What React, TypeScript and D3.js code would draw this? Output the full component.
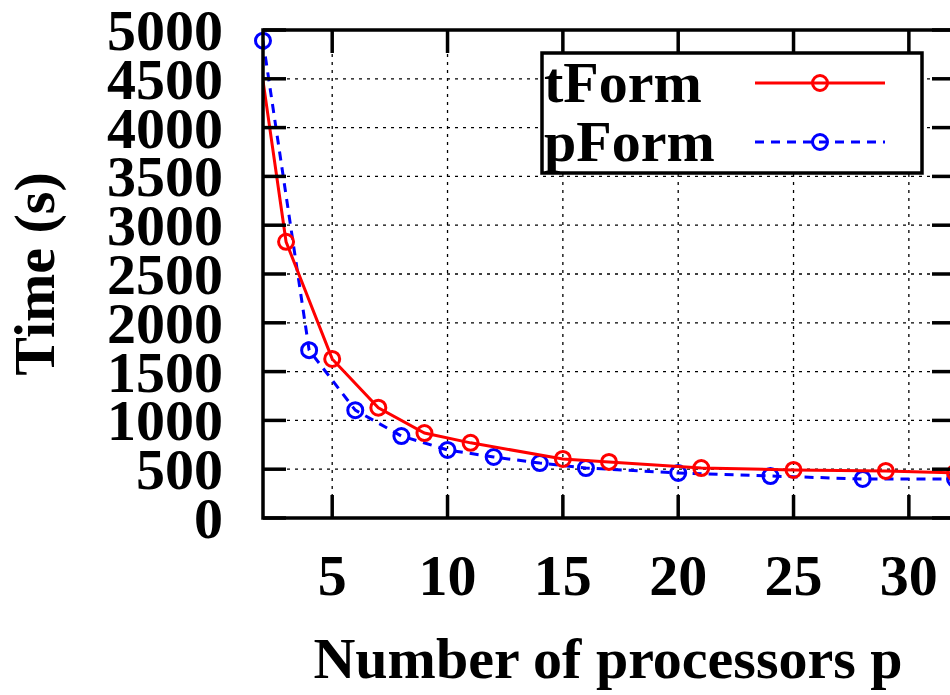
import React, { useEffect, useRef } from "react";
import * as d3 from "d3";

const WIDTH = 950;
const HEIGHT = 695;

// tForm run times, first sample only shows as the line entering the plot
const tFormP = [2, 3, 5, 7, 9, 11, 15, 17, 21, 25, 29, 32];
const tFormTime = [4480, 2830, 1630, 1130, 870, 770, 605, 575, 512, 492, 482, 462];

// pForm run times
const pFormP = [2, 4, 6, 8, 10, 12, 14, 16, 20, 24, 28, 32];
const pFormTime = [4890, 1720, 1105, 840, 697, 625, 563, 512, 461, 430, 400, 400];

const xTicks = [5, 10, 15, 20, 25, 30];
const yTicks = [0, 500, 1000, 1500, 2000, 2500, 3000, 3500, 4000, 4500, 5000];
const legendLabels = ["tForm", "pForm"];

const FONT = "'Liberation Serif', 'Times New Roman', serif";

function drawChart(svgEl: SVGSVGElement) {
    const MARGINS = { top: 30, right: 955, bottom: 518, left: 263 };
    const svg = d3.select(svgEl);
    svg.selectAll("*").remove();

    const x = d3.scaleLinear().domain([2, 32]).range([MARGINS.left, MARGINS.right]);
    const y = d3.scaleLinear().domain([0, 5000]).range([MARGINS.bottom, MARGINS.top]);

    svg.append("rect").attr("width", WIDTH).attr("height", HEIGHT).attr("fill", "#fff");

    svg.append("clipPath").attr("id", "plotClip")
        .append("rect")
        .attr("x", MARGINS.left).attr("y", MARGINS.top)
        .attr("width", MARGINS.right - MARGINS.left)
        .attr("height", MARGINS.bottom - MARGINS.top);

    // grid
    const grid = svg.append("g").attr("stroke", "#000").attr("stroke-width", 1.3)
        .attr("stroke-dasharray", "3,5");
    grid.selectAll(".gy").data(yTicks.filter(v => v > 0 && v < 5000)).enter()
        .append("line")
        .attr("x1", MARGINS.left).attr("x2", MARGINS.right)
        .attr("y1", d => y(d)).attr("y2", d => y(d));
    grid.selectAll(".gx").data(xTicks).enter()
        .append("line")
        .attr("y1", MARGINS.top).attr("y2", MARGINS.bottom)
        .attr("x1", d => x(d)).attr("x2", d => x(d));

    const line = d3.line<[number, number]>()
        .x(d => x(d[0]))
        .y(d => y(d[1]));

    const tData = tFormP.map((p, i) => [p, tFormTime[i]] as [number, number]);
    const pData = pFormP.map((p, i) => [p, pFormTime[i]] as [number, number]);

    const series = [
        { data: pData, color: "#0000ff", dash: "9,7", markers: pData },
        { data: tData, color: "#ff0000", dash: null, markers: tData.slice(1) },
    ];

    series.forEach(s => {
        svg.append("path")
            .datum(s.data)
            .attr("clip-path", "url(#plotClip)")
            .attr("fill", "none")
            .attr("stroke", s.color)
            .attr("stroke-width", 3)
            .attr("stroke-dasharray", s.dash)
            .attr("d", line);
        svg.append("g").selectAll("circle")
            .data(s.markers).enter()
            .append("circle")
            .attr("cx", d => x(d[0]))
            .attr("cy", d => y(d[1]))
            .attr("r", 7.5)
            .attr("fill", "none")
            .attr("stroke", s.color)
            .attr("stroke-width", 3);
    });

    // border + ticks
    const axes = svg.append("g").attr("stroke", "#000").attr("stroke-width", 3.5);
    axes.append("rect")
        .attr("x", MARGINS.left).attr("y", MARGINS.top)
        .attr("width", MARGINS.right - MARGINS.left)
        .attr("height", MARGINS.bottom - MARGINS.top)
        .attr("fill", "none");
    const TICK = 23;
    yTicks.forEach(v => {
        axes.append("line").attr("x1", MARGINS.left).attr("x2", MARGINS.left + TICK)
            .attr("y1", y(v)).attr("y2", y(v));
        axes.append("line").attr("x1", MARGINS.right).attr("x2", MARGINS.right - TICK)
            .attr("y1", y(v)).attr("y2", y(v));
    });
    xTicks.forEach(v => {
        axes.append("line").attr("y1", MARGINS.bottom).attr("y2", MARGINS.bottom - TICK)
            .attr("x1", x(v)).attr("x2", x(v));
        axes.append("line").attr("y1", MARGINS.top).attr("y2", MARGINS.top + TICK)
            .attr("x1", x(v)).attr("x2", x(v));
    });

    const text = svg.append("g")
        .attr("font-family", FONT)
        .attr("font-weight", "bold")
        .attr("font-size", 58)
        .attr("fill", "#000");

    text.selectAll(".yl").data(yTicks).enter()
        .append("text")
        .attr("x", 223)
        .attr("y", d => y(d) + 20)
        .attr("text-anchor", "end")
        .text(d => String(d));

    text.selectAll(".xl").data(xTicks).enter()
        .append("text")
        .attr("x", d => x(d))
        .attr("y", 595)
        .attr("text-anchor", "middle")
        .text(d => String(d));

    text.append("text")
        .attr("x", 608).attr("y", 678)
        .attr("text-anchor", "middle")
        .text("Number of processors p");

    text.append("text")
        .attr("transform", `translate(54,${(MARGINS.top + MARGINS.bottom) / 2}) rotate(-90)`)
        .attr("text-anchor", "middle")
        .text("Time (s)");

    // legend
    const legend = svg.append("g");
    legend.append("rect")
        .attr("x", 542).attr("y", 53).attr("width", 380).attr("height", 120)
        .attr("fill", "#fff").attr("stroke", "#000").attr("stroke-width", 3.5);
    const rows = [
        { label: legendLabels[0], color: "#ff0000", dash: null, cy: 83 },
        { label: legendLabels[1], color: "#0000ff", dash: "9,7", cy: 142 },
    ];
    rows.forEach(r => {
        legend.append("text")
            .attr("x", 544).attr("y", r.cy + 19)
            .attr("font-family", FONT).attr("font-weight", "bold").attr("font-size", 58)
            .text(r.label);
        legend.append("line")
            .attr("x1", 755).attr("x2", 885).attr("y1", r.cy).attr("y2", r.cy)
            .attr("stroke", r.color).attr("stroke-width", 3)
            .attr("stroke-dasharray", r.dash);
        legend.append("circle")
            .attr("cx", 820).attr("cy", r.cy).attr("r", 7.5)
            .attr("fill", "none").attr("stroke", r.color).attr("stroke-width", 3);
    });
}

export default function App() {
    const ref = useRef<SVGSVGElement>(null);
    useEffect(() => {
        if (ref.current) drawChart(ref.current);
    }, []);
    return (
        <svg
            ref={ref}
            width={WIDTH}
            height={HEIGHT}
            style={{ position: "absolute", left: 0, top: 0 }}
        />
    );
}
